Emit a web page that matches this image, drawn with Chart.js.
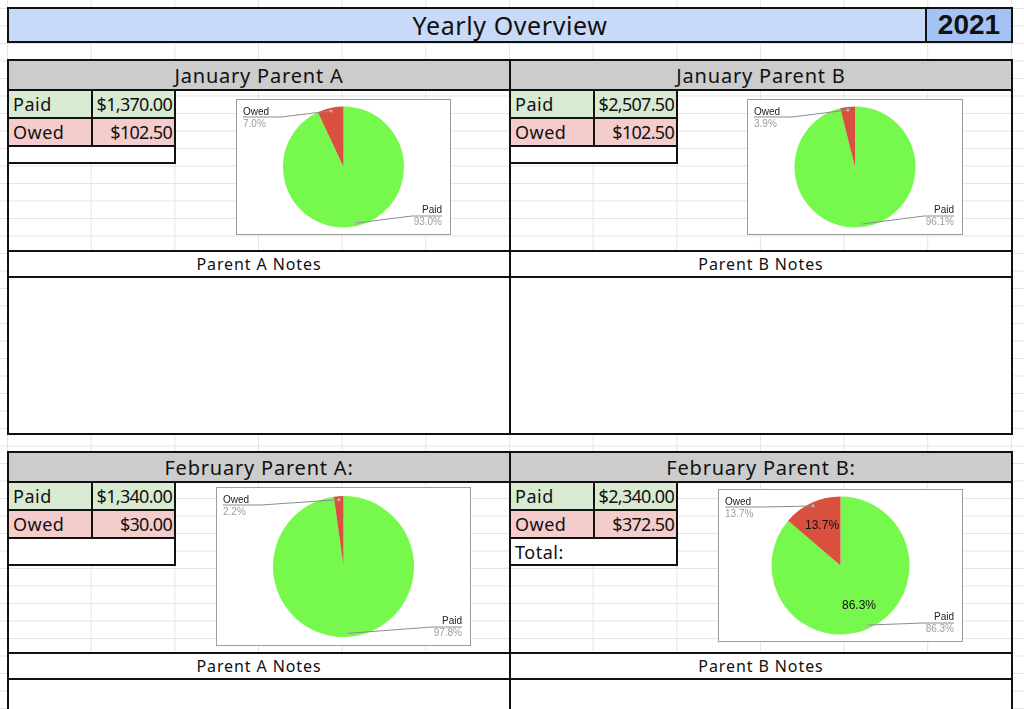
<!DOCTYPE html>
<html>
<head>
<meta charset="utf-8">
<title>Yearly Overview</title>
<script src="https://cdn.jsdelivr.net/npm/chart.js@4.4.0/dist/chart.umd.min.js"></script>
<style>
  body {
    margin: 0; width: 1024px; height: 709px; overflow: hidden; position: relative;
    font-family: "Noto Sans", Lato, sans-serif; color: #111;
    background-color: #fff;
    background-image:
      linear-gradient(to right, #e4e4e4 1px, transparent 1px),
      linear-gradient(to bottom, #e4e4e4 1px, transparent 1px);
    background-size: 83.67px 100%, 100% 17.5px;
    background-position: 7px 0, 0 8px;
  }
  .cell {
    position: absolute; box-sizing: border-box; border: 2px solid #111;
    display: flex; align-items: center; white-space: nowrap; overflow: hidden;
  }
  .center { justify-content: center; }
  .right { justify-content: flex-end; padding-right: 2px; }
  .left { padding-left: 4px; letter-spacing: 0.5px; }
  .chartbox { position: absolute; box-sizing: border-box; border: 1px solid #9c9c9c; background: #fff; }
  .chartbox canvas { display: block; }
</style>
</head>
<body>
<script>
// sheet values
const sheetTitle = 'Yearly Overview';
const sheetYear = '2021';
const sectionTitles = ['January Parent A', 'January Parent B', 'February Parent A:', 'February Parent B:'];
const notesTitles = ['Parent A Notes', 'Parent B Notes'];
const sliceLabels = ['Paid', 'Owed'];
const paidAmounts = [1370.00, 2507.50, 1340.00, 2340.00];
const owedAmounts = [102.50, 102.50, 30.00, 372.50];
const extraRowLabels = ['', '', '', 'Total:'];
const showInsideLabels = [false, false, false, true];

const paidColor = '#77f84d';
const owedColor = '#d9503f';

// layout of the sheet
const bands = [
  { top: 59, content: 161, notes: 159, extra: 19 },
  { top: 451, content: 171, notes: 60, extra: 29 }
];
const halves = [7, 509];
const chartBoxes = [
  { x: 236, y: 99, w: 215, h: 136, d: 121 },
  { x: 747, y: 99, w: 216, h: 136, d: 121 },
  { x: 216, y: 487, w: 255, h: 159, d: 141 },
  { x: 718, y: 489, w: 245, h: 153, d: 138 }
];

const money = v => '$' + v.toLocaleString('en-US', { minimumFractionDigits: 2, maximumFractionDigits: 2 });

function cell(x, y, w, h, opts) {
  const d = document.createElement('div');
  d.className = 'cell ' + (opts.cls || '');
  Object.assign(d.style, { left: x + 'px', top: y + 'px', width: w + 'px', height: h + 'px' });
  if (opts.bg) d.style.background = opts.bg;
  if (opts.size) d.style.fontSize = opts.size + 'px';
  if (opts.font) d.style.fontFamily = opts.font;
  if (opts.bold) d.style.fontWeight = 'bold';
  if (opts.spacing !== undefined) d.style.letterSpacing = opts.spacing + 'px';
  if (opts.text) d.textContent = opts.text;
  document.body.appendChild(d);
  return d;
}

// title row
cell(7, 7, 1006, 36, { bg: '#c9daf8', text: sheetTitle, cls: 'center', size: 25, spacing: 0.6 });
cell(925, 7, 88, 36, { bg: '#a4c2f4', text: sheetYear, cls: 'center', size: 28, bold: true, font: '"Liberation Sans", Arial, sans-serif' });

// sections
bands.forEach((b, bi) => {
  halves.forEach((x0, hi) => {
    const k = bi * 2 + hi;
    cell(x0, b.top, 504, 32, { bg: '#cccccc', text: sectionTitles[k], cls: 'center', size: 20, spacing: 0.8 });
    cell(x0, b.top + 30, 504, b.content + 2, {});
    cell(x0, b.top + 30 + b.content, 504, 28, { bg: '#fff', text: notesTitles[hi], cls: 'center', size: 16, spacing: 0.9 });
    cell(x0, b.top + 30 + b.content + 26, 504, b.notes, { bg: '#fff' });

    const ty = b.top + 30;
    cell(x0, ty, 86, 30, { bg: '#d9ead3', text: sliceLabels[0], cls: 'left', size: 18 });
    cell(x0 + 84, ty, 85, 30, { bg: '#d9ead3', text: money(paidAmounts[k]), cls: 'right', size: 18, spacing: -0.7 });
    cell(x0, ty + 28, 86, 30, { bg: '#f4cccc', text: sliceLabels[1], cls: 'left', size: 18 });
    cell(x0 + 84, ty + 28, 85, 30, { bg: '#f4cccc', text: money(owedAmounts[k]), cls: 'right', size: 18, spacing: -0.7 });
    cell(x0, ty + 56, 169, b.extra, { bg: '#fff', text: extraRowLabels[k], cls: 'left', size: 18 });
  });
});

// callout labels drawn from the arc elements
const calloutPlugin = {
  id: 'callouts',
  afterDatasetsDraw(chart, args, opts) {
    const ctx = chart.ctx;
    const meta = chart.getDatasetMeta(0);
    const data = chart.data.datasets[0].data;
    const total = data.reduce((a, b) => a + b, 0);
    const W = chart.width, H = chart.height;
    ctx.save();
    meta.data.forEach((arc, i) => {
      const p = arc.getProps(['x', 'y', 'startAngle', 'endAngle', 'outerRadius'], true);
      const mid = (p.startAngle + p.endAngle) / 2;
      const dx = p.x + Math.cos(mid) * p.outerRadius * 0.95;
      const dy = p.y + Math.sin(mid) * p.outerRadius * 0.95;
      const pct = (data[i] / total * 100).toFixed(1) + '%';
      const name = chart.data.labels[i];
      ctx.font = '10px "Liberation Sans", Arial, sans-serif';
      const tw = ctx.measureText(name).width;
      let tx, ty, uy, ux0, ux1, bend, align;
      if (i === 1) {
        tx = 6; ty = 12; uy = 17; ux0 = 6; ux1 = 6 + tw + 12; bend = ux1; align = 'left';
      } else {
        tx = W - 8; ty = H - 24; uy = H - 18; ux1 = W - 8; ux0 = W - 8 - tw - 10; bend = ux0; align = 'right';
      }
      ctx.strokeStyle = '#8c8c8c';
      ctx.lineWidth = 1;
      ctx.beginPath();
      ctx.moveTo(i === 1 ? ux0 : ux1, uy);
      ctx.lineTo(bend, uy);
      ctx.lineTo(dx, dy);
      ctx.stroke();
      ctx.fillStyle = '#b4b4b4';
      ctx.beginPath();
      ctx.arc(dx, dy, 1.6, 0, Math.PI * 2);
      ctx.fill();
      ctx.textAlign = align;
      ctx.textBaseline = 'middle';
      ctx.fillStyle = '#222';
      ctx.fillText(name, tx, ty);
      ctx.fillStyle = '#9c9c9c';
      ctx.fillText(pct, tx, ty + 12);
      if (opts.inside) {
        ctx.font = '12px "Liberation Sans", Arial, sans-serif';
        ctx.textAlign = 'center';
        ctx.fillStyle = '#111';
        ctx.fillText(pct, p.x + Math.cos(mid) * p.outerRadius * 0.64, p.y + Math.sin(mid) * p.outerRadius * 0.64);
      }
    });
    ctx.restore();
  }
};

chartBoxes.forEach((box, k) => {
  const wrap = document.createElement('div');
  wrap.className = 'chartbox';
  Object.assign(wrap.style, { left: box.x + 'px', top: box.y + 'px', width: box.w + 'px', height: box.h + 'px' });
  const canvas = document.createElement('canvas');
  canvas.width = box.w - 2;
  canvas.height = box.h - 2;
  wrap.appendChild(canvas);
  document.body.appendChild(wrap);

  const pad = (box.h - 2 - box.d) / 2;
  new Chart(canvas.getContext('2d'), {
    type: 'pie',
    data: {
      labels: sliceLabels,
      datasets: [{
        data: [paidAmounts[k], owedAmounts[k]],
        backgroundColor: [paidColor, owedColor],
        borderWidth: 0
      }]
    },
    options: {
      responsive: false,
      animation: false,
      layout: { padding: { top: pad, bottom: pad } },
      plugins: {
        legend: { display: false },
        tooltip: { enabled: false },
        callouts: { inside: showInsideLabels[k] }
      }
    },
    plugins: [calloutPlugin]
  });
});
</script>
</body>
</html>
